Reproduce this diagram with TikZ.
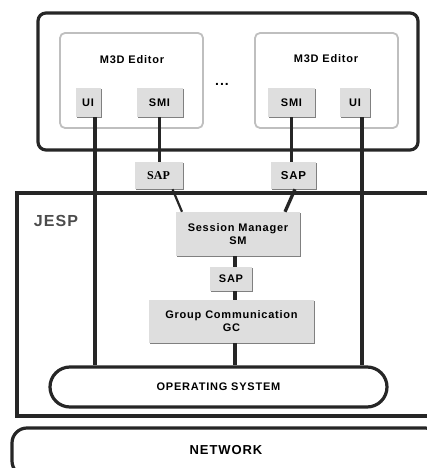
\documentclass[tikz,border=0pt]{standalone}
\usepackage{fontspec}
\setmainfont{Liberation Sans}[LetterSpace=7]
\newfontfamily\sapserif{Liberation Serif}
\usetikzlibrary{shadows}
\tikzset{
  box/.style={fill=black!13, inner sep=0pt, align=center, font=\bfseries\fontsize{11}{13}\selectfont,
    drop shadow={shadow xshift=1.2pt, shadow yshift=-1.2pt, opacity=1, fill=black!50}},
  editor/.style={draw=black!25, line width=1.8pt, fill=white, rounded corners=5pt, inner sep=0pt,
    minimum width=143pt, minimum height=95pt},
  frame/.style={draw=black!85, line width=3.2pt, fill=white, inner sep=0pt},
  wire/.style={black!85, line width=3.3pt},
  label/.style={font=\bfseries\fontsize{11}{13}\selectfont}
}
\begin{document}
\begin{tikzpicture}[x=1pt,y=-1pt]
\useasboundingbox (0,0) rectangle (427,468);
\node[frame, rounded corners=8pt, minimum width=380pt, minimum height=137pt] (host) at (228,81.5) {};
\node[editor] (edL) at (131.5,80.5) {};
\node[editor] (edR) at (326.5,80.5) {};
\node[label] (nameL) at (132,60) {M3D Editor};
\node[label] (nameR) at (326,59) {M3D Editor};
\node[font=\bfseries\fontsize{14}{14}\selectfont] (dots) at (222,84) {...};
\node[box, minimum width=25pt, minimum height=29pt] (uiL) at (88,102.5) {UI};
\node[box, minimum width=46pt, minimum height=29pt] (smiL) at (159.5,102.5) {SMI};
\node[box, minimum width=47pt, minimum height=29pt] (smiR) at (291.5,102.5) {SMI};
\node[box, minimum width=30pt, minimum height=29pt] (uiR) at (355,102.5) {UI};
\node[box, minimum width=48pt, minimum height=27pt, font=\sapserif\bfseries\fontsize{12}{13}\selectfont] (sapL) at (158.5,175.5) {SAP};
\node[box, minimum width=45pt, minimum height=27pt, font=\bfseries\fontsize{11.5}{13}\selectfont] (sapR) at (293.5,175.5) {SAP};
\draw[draw=black!85, line width=3.2pt] (432,193) -| (17,416) -- (432,416);
\node[font=\bfseries\fontsize{16}{17}\selectfont, text=black!70] (jesp) at (56,221) {JESP};
\node[box, minimum width=124pt, minimum height=44pt] (sm) at (238,234) {Session Manager\\SM};
\node[box, minimum width=42pt, minimum height=24pt] (sapM) at (231,279) {SAP};
\node[box, minimum width=165pt, minimum height=43pt] (gc) at (231.5,321.5) {Group Communication\\GC};
\node[frame, rounded corners=20pt, minimum width=337pt, minimum height=40pt, label] (os) at (218.5,387) {OPERATING SYSTEM};
\node[frame, rounded corners=15pt, minimum width=428pt, minimum height=48pt, font=\bfseries\fontsize{13}{14}\selectfont] (net) at (226,452) {\raisebox{4pt}{NETWORK}};
\draw[wire] ([xshift=7pt]uiL.south) -- ([xshift=7pt]uiL.south |- os.north);
\draw[wire] ([xshift=7pt]uiR.south) -- ([xshift=7pt]uiR.south |- os.north);
\draw[wire] (smiL.south) -- (smiL.south |- sapL.north);
\draw[wire] (smiR.south) -- (smiR.south |- sapR.north);
\draw[wire, line width=2.2pt] ([xshift=14pt]sapL.south) -- ([xshift=-56pt]sm.north);
\draw[wire] ([xshift=1.5pt]sapR.south) -- ([xshift=47pt]sm.north);
\draw[wire] ([xshift=-3pt]sm.south) -- ([xshift=-3pt]sm.south |- sapM.north);
\draw[wire] ([xshift=4pt]sapM.south) -- ([xshift=4pt]sapM.south |- gc.north);
\draw[wire] ([xshift=3.5pt]gc.south) -- ([xshift=3.5pt]gc.south |- os.north);
\end{tikzpicture}
\end{document}
